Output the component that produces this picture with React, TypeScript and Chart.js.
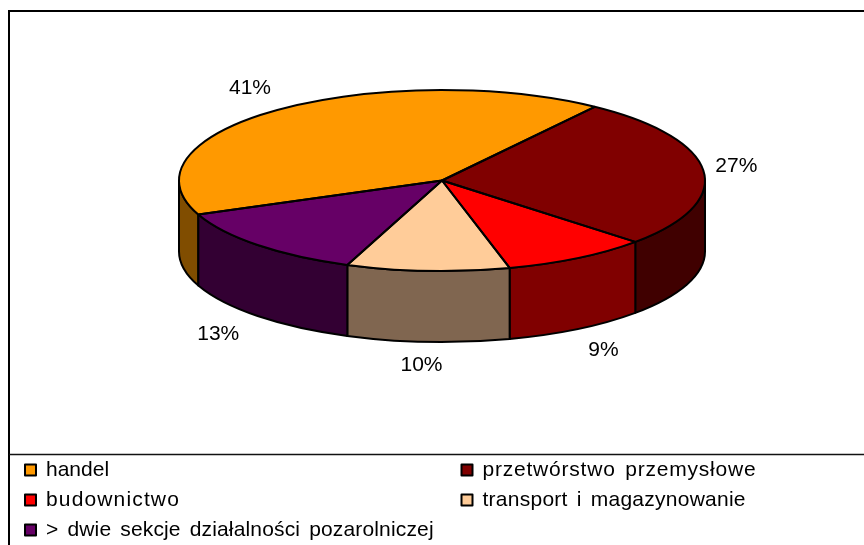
import React, { useEffect, useRef } from "react";
import { Chart, registerables } from "chart.js";

Chart.register(...registerables);

const categories = [
  "handel",
  "przetwórstwo przemysłowe",
  "budownictwo",
  "transport i magazynowanie",
  "> dwie sekcje działalności pozarolniczej",
];
const shares = [41, 27, 9, 10, 13];
const topColors = ["#FF9900", "#800000", "#FF0000", "#FFCC99", "#660066"];
const sideColors = ["#804D00", "#400000", "#800000", "#806650", "#330033"];

const FONT = '21px "Liberation Sans", Arial, sans-serif';
const CX = 442;
const CY = 180.5;
const RY = 90.5;
const DEPTH = 71;
const TAU = Math.PI * 2;
const LABEL_NUDGE = [
  [-3, 2],
  [-9, -2],
  [4, 1],
  [-4, -2],
  [-10, 2],
];

function geometry(chart: any) {
  const arcs = chart.getDatasetMeta(0).data as any[];
  const r = arcs[0].outerRadius;
  return { arcs, r, px: arcs[0].x, py: arcs[0].y, k: RY / r };
}

const pie3d = {
  id: "pie3d",
  beforeDraw(chart: any) {
    const { ctx, width, height } = chart;
    ctx.save();
    ctx.fillStyle = "#fff";
    ctx.fillRect(0, 0, width, height);
    ctx.strokeStyle = "#000";
    ctx.lineWidth = 2;
    ctx.beginPath();
    ctx.moveTo(9, height);
    ctx.lineTo(9, 11);
    ctx.lineTo(width, 11);
    ctx.stroke();
    ctx.lineWidth = 1.5;
    ctx.strokeStyle = "#111";
    ctx.beginPath();
    ctx.moveTo(9, 454.5);
    ctx.lineTo(width, 454.5);
    ctx.stroke();
    ctx.restore();
  },
  beforeDatasetsDraw(chart: any) {
    const { ctx } = chart;
    const { arcs, r, px, py, k } = geometry(chart);
    ctx.save();
    ctx.lineWidth = 2;
    ctx.lineJoin = "round";
    ctx.strokeStyle = "#000";
    arcs.forEach((arc, i) => {
      for (let n = -1; n <= 1; n++) {
        const a = Math.max(arc.startAngle, n * TAU);
        const b = Math.min(arc.endAngle, n * TAU + Math.PI);
        if (b <= a) continue;
        ctx.beginPath();
        ctx.ellipse(CX, CY, r, RY, 0, a, b);
        ctx.ellipse(CX, CY + DEPTH, r, RY, 0, b, a, true);
        ctx.closePath();
        ctx.fillStyle = sideColors[i];
        ctx.fill();
        ctx.stroke();
      }
    });
    ctx.restore();
    ctx.save();
    ctx.translate(CX, CY);
    ctx.scale(1, k);
    ctx.translate(-px, -py);
  },
  afterDatasetsDraw(chart: any) {
    const { ctx } = chart;
    ctx.restore();
    const { arcs, r } = geometry(chart);
    ctx.save();
    ctx.lineWidth = 2;
    ctx.lineJoin = "round";
    ctx.strokeStyle = "#000";
    arcs.forEach((arc) => {
      ctx.beginPath();
      ctx.moveTo(CX, CY);
      ctx.ellipse(CX, CY, r, RY, 0, arc.startAngle, arc.endAngle);
      ctx.closePath();
      ctx.stroke();
    });

    // percentage labels
    const total = shares.reduce((s, v) => s + v, 0);
    ctx.font = FONT;
    ctx.fillStyle = "#000";
    ctx.textAlign = "center";
    ctx.textBaseline = "middle";
    arcs.forEach((arc, i) => {
      const mid = (arc.startAngle + arc.endAngle) / 2;
      const sin = Math.sin(mid);
      const x = CX + Math.cos(mid) * (r + 42) + LABEL_NUDGE[i][0];
      const y = CY + sin * (RY + 30) + (sin > 0 ? DEPTH - 5 : 0) + LABEL_NUDGE[i][1];
      ctx.fillText(`${Math.round((shares[i] / total) * 100)}%`, x, y);
    });

    // two-column legend
    const colX = [24.5, 461];
    const rowY = [470.5, 500.5, 530.5];
    ctx.textAlign = "left";
    categories.forEach((name, i) => {
      const lx = colX[i % 2];
      const ly = rowY[Math.floor(i / 2)];
      ctx.fillStyle = topColors[i];
      ctx.fillRect(lx + 0.5, ly - 6, 11, 11);
      ctx.lineWidth = 2;
      ctx.strokeStyle = "#000";
      ctx.strokeRect(lx + 0.5, ly - 6, 11, 11);
      ctx.fillStyle = "#000";
      const wCount = name.split("w").length - 1;
      (ctx as any).letterSpacing = `${((wCount * 6.3) / name.length).toFixed(3)}px`;
      (ctx as any).wordSpacing = "3px";
      ctx.fillText(name, lx + 21.5, ly);
      (ctx as any).letterSpacing = "0px";
      (ctx as any).wordSpacing = "0px";
    });
    ctx.restore();
  },
};

export default function App() {
  const ref = useRef<HTMLCanvasElement>(null);
  useEffect(() => {
    document.body.style.margin = "0";
    document.body.style.overflow = "hidden";
    const chart = new Chart(ref.current as HTMLCanvasElement, {
      type: "pie",
      data: {
        labels: categories,
        datasets: [
          {
            data: shares,
            backgroundColor: topColors,
            borderWidth: 0,
            hoverOffset: 0,
          },
        ],
      },
      options: {
        responsive: false,
        animation: false,
        rotation: -112.1,
        events: [],
        layout: { padding: { left: 179, right: 159, top: 9.5, bottom: 9.5 } },
        plugins: { legend: { display: false }, tooltip: { enabled: false } },
      },
      plugins: [pie3d],
    } as any);
    return () => chart.destroy();
  }, []);
  return (
    <div style={{ position: "absolute", left: 0, top: 0, width: 864, height: 545 }}>
      <canvas ref={ref} width={864} height={545} style={{ display: "block" }} />
    </div>
  );
}
